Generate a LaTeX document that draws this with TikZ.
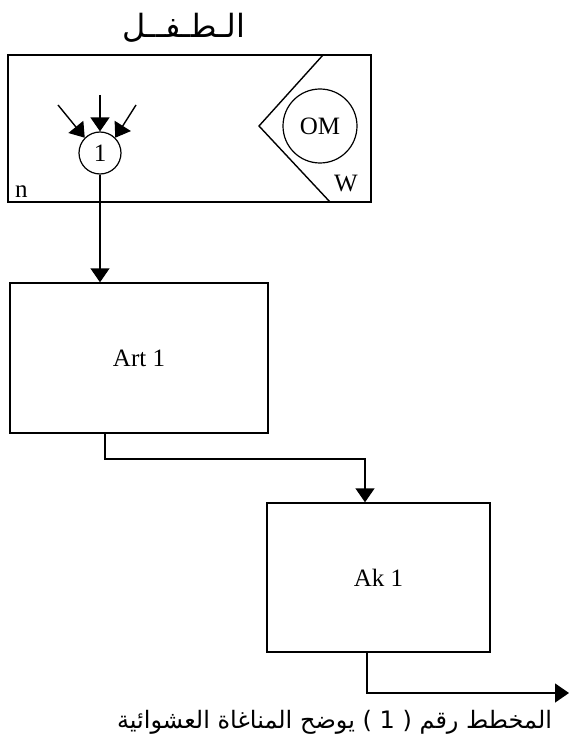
\documentclass[tikz,border=0pt]{standalone}
\usepackage{fontspec}
\setmainfont{Liberation Serif}
\newfontfamily\arabicfont[Script=Arabic]{DejaVu Sans}
\TeXXeTstate=1
\usetikzlibrary{arrows.meta}
\begin{document}
\begin{tikzpicture}[x=1pt,y=-1pt,
  line width=1.4pt,
  tip/.style={-{Triangle[width=19pt,length=14pt]}},
  box/.style={draw,rectangle,line width=1.4pt,inner sep=0pt},
  lbl/.style={font=\fontsize{25}{29}\selectfont}
]
\useasboundingbox (0,0) rectangle (569,746);
% title
\node (title) at (184,28) {\arabicfont\fontsize{32}{36}\selectfont\beginR الـطـفــل\endR};
% frame
\draw (8,55) rectangle (371,202);
\node[lbl,anchor=south west] (n) at (11,202) {n};
\node[lbl] (w) at (346,184) {W};
% triangle
\coordinate (triT) at (323,55);
\coordinate (triA) at (259,126);
\coordinate (triB) at (330,202);
\draw (triT) -- (triA) -- (triB);
\node[draw,circle,minimum size=74pt,inner sep=0pt,line width=1.2pt,lbl] (om) at (320,126) {OM};
% input circle
\node[draw,circle,minimum size=42pt,inner sep=0pt,line width=1.2pt,lbl] (one) at (100,153) {1};
\coordinate (inL) at (58,105);
\coordinate (inC) at (100,95);
\coordinate (inR) at (136,105);
\draw[tip] (inL) -- (one.north west);
\draw[tip] (inC) -- (one.north);
\draw[tip] (inR) -- (one.north east);
% Art box
\node[box,minimum width=258pt,minimum height=150pt,lbl] (art) at (139,358) {Art 1};
\draw[tip] (one.south) -- (art.north -| one.south);
% Ak box
\node[box,minimum width=223pt,minimum height=149pt,lbl] (ak) at (378.5,577.5) {Ak 1};
\coordinate (artOut) at (105,433);
\coordinate (bend1) at (105,459);
\coordinate (bend2) at (365,459);
\draw[tip] (artOut) -- (bend1) -- (bend2) -- (ak.north -| bend2);
\coordinate (akOut) at (367,652);
\coordinate (bend3) at (367,693);
\coordinate (outEnd) at (569,693);
\draw[tip] (akOut) -- (bend3) -- (outEnd);
% caption
\node[anchor=east] (cap) at (556,722) {\arabicfont\fontsize{24}{28}\selectfont\beginR المخطط رقم ( 1 ) يوضح المناغاة العشوائية\endR};
\end{tikzpicture}
\end{document}
